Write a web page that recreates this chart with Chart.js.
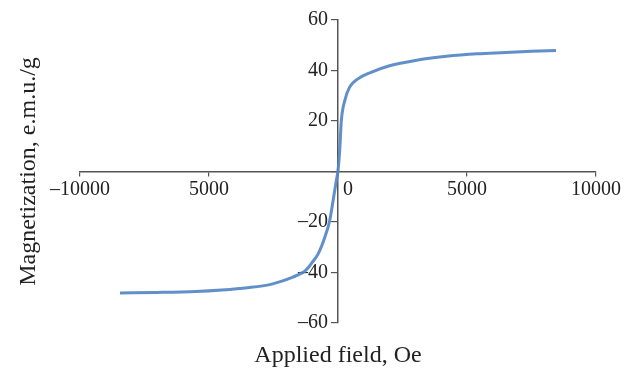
<!DOCTYPE html>
<html>
<head>
<meta charset="utf-8">
<script src="https://cdn.jsdelivr.net/npm/chart.js@4"></script>
<style>
  html, body { margin: 0; padding: 0; background: #fff; }
  #wrap { width: 623px; height: 373px; }
</style>
</head>
<body>
<div id="wrap"><canvas id="magChart" width="623" height="373"></canvas></div>
<script>
// Applied field (Oe) and magnetization (e.m.u./g)
const fieldOe = [-8450, -7000, -5500, -4500, -3500, -2600, -2200, -1800, -1550, -1300, -1150, -1000, -770, -510, -320, -190, -65, 0,
                 65, 130, 260, 450, 770, 1280, 2000, 3000, 4200, 5400, 6500, 7500, 8450];
const magnetization = [-48.1, -47.9, -47.5, -46.9, -46.0, -44.7, -43.5, -42.0, -40.9, -39.6, -38.0, -36.0, -32.6, -26.0, -19.4, -11.5, -3.6, 0.4,
                       8.3, 20.2, 28.0, 33.4, 36.7, 39.3, 41.9, 44.0, 45.6, 46.6, 47.1, 47.6, 47.9];

const xTicks = [-10000, -5000, 0, 5000, 10000];
const xTickLabels = ['\u201310000', '5000', '    0', '5000', '10000'];
const yTicks = [-60, -40, -20, 0, 20, 40, 60];

const xTitle = 'Applied field, Oe';
const yTitle = 'Magnetization, e.m.u./g';

const serif = '"Liberation Serif", "Times New Roman", serif';

// axis titles sit at the page edges, not next to the centred axes
const titlesPlugin = {
  id: 'edgeTitles',
  afterDraw(chart) {
    const ctx = chart.ctx;
    const area = chart.chartArea;
    ctx.save();
    ctx.fillStyle = '#222';
    ctx.font = '24px ' + serif;
    ctx.textAlign = 'center';
    ctx.textBaseline = 'middle';
    ctx.fillText(xTitle, (area.left + area.right) / 2, 356);
    ctx.translate(29, (area.top + area.bottom) / 2);
    ctx.rotate(-Math.PI / 2);
    ctx.fillText(yTitle, 0, 0);
    ctx.restore();
  }
};

const points = fieldOe.map((h, i) => ({ x: h, y: magnetization[i] }));

new Chart(document.getElementById('magChart').getContext('2d'), {
  type: 'scatter',
  data: {
    datasets: [{
      data: points,
      showLine: true,
      borderColor: 'rgba(84,134,196,0.92)',
      borderWidth: 3,
      pointRadius: 0,
      cubicInterpolationMode: 'monotone'
    }]
  },
  options: {
    responsive: false,
    animation: false,
    layout: { padding: { left: 80, right: 25, top: 20, bottom: 50 } },
    plugins: { legend: { display: false }, tooltip: { enabled: false } },
    scales: {
      x: {
        type: 'linear',
        position: { y: 0 },
        min: -10000,
        max: 10000,
        afterBuildTicks: axis => { axis.ticks = xTicks.map(v => ({ value: v })); },
        ticks: {
          color: '#222',
          font: { family: serif, size: 20 },
          padding: 2,
          maxRotation: 0,
          autoSkip: false,
          callback: v => xTickLabels[xTicks.indexOf(v)]
        },
        grid: { drawOnChartArea: false, tickLength: 4, color: '#555', lineWidth: 1.2 },
        border: { color: '#555', width: 1.5 }
      },
      y: {
        type: 'linear',
        position: { x: 0 },
        min: -60,
        max: 60,
        afterBuildTicks: axis => { axis.ticks = yTicks.map(v => ({ value: v })); },
        ticks: {
          color: '#222',
          font: { family: serif, size: 20 },
          // centred axis labels hug the line, so trailing spaces push them off it
          callback: v => v === 0 ? '' : (v < 0 ? '\u2013' + Math.abs(v) : String(v)) + '  '
        },
        grid: { drawOnChartArea: false, tickLength: 6, color: '#555', lineWidth: 1.2 },
        border: { color: '#555', width: 1.5 }
      }
    }
  },
  plugins: [titlesPlugin]
});
</script>
</body>
</html>
